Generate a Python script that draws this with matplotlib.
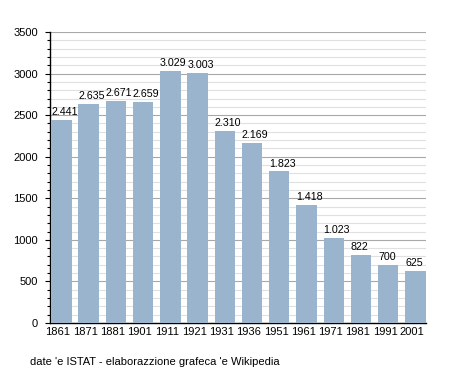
import matplotlib
import numpy as np

matplotlib.use("Agg")
import matplotlib.pyplot as plt  # noqa: E402
from matplotlib.ticker import MultipleLocator  # noqa: E402

years = ["1861", "1871", "1881", "1901", "1911", "1921", "1931", "1936",
         "1951", "1961", "1971", "1981", "1991", "2001"]
population = [2441, 2635, 2671, 2659, 3029, 3003, 2310, 2169,
              1823, 1418, 1023, 822, 700, 625]

plt.rcParams.update({"font.family": ["Liberation Sans", "DejaVu Sans"],
                     "font.size": 8})

fig = plt.figure(figsize=(4.55, 3.73), dpi=100)
ax = fig.add_axes([50 / 455, 50 / 373, 376 / 455, 291 / 373])

x = np.arange(len(years))
w = 0.75
ax.bar(x, population, width=w, color="#9ab4ce", zorder=3)
# value labels sit on the bar's left edge, like the original wiki chart
for xi, v in zip(x, population):
    lab = f"{v:,}".replace(",", ".")
    ax.text(xi - w / 2, v + 35, lab, ha="left", va="bottom", fontsize=7.7, zorder=4)

ax.set_xlim(-w / 2 - 0.04, len(years) - 1 + w / 2 + 0.01)
ax.set_ylim(0, 3500)
ax.set_xticks(x - 0.12)
ax.set_xticklabels(years)
ax.yaxis.set_major_locator(MultipleLocator(500))
ax.yaxis.set_minor_locator(MultipleLocator(100))
ax.grid(axis="y", which="major", color="#a8a8a8", lw=0.8, zorder=1)
ax.grid(axis="y", which="minor", color="#e0e0e0", lw=0.8, zorder=0)
ax.tick_params(axis="x", length=0, pad=3)
ax.tick_params(axis="y", which="major", length=3.6, width=0.8, pad=5)
ax.tick_params(axis="y", which="minor", length=2.2, width=0.8)
for s in ("top", "right"):
    ax.spines[s].set_visible(False)
ax.spines["left"].set_linewidth(1.0)
ax.spines["bottom"].set_linewidth(1.0)

fig.text(30 / 455, 1 - 362 / 373, "date 'e ISTAT - elaborazzione grafeca 'e Wikipedia",
         fontsize=8, va="center", ha="left")

fig.savefig("out.png", dpi=100)
